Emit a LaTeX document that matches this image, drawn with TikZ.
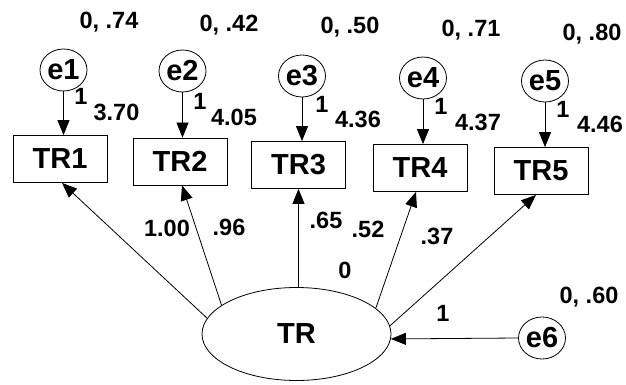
\documentclass[tikz,border=0pt]{standalone}
\usepackage{fontspec}
\setmainfont{Liberation Sans}
\usetikzlibrary{arrows.meta,shapes.geometric}
\begin{document}
\begin{tikzpicture}[x=1pt,y=-1pt,
  every path/.style={line width=0.8pt},
  nodefont/.style={font=\fontsize{29}{30}\selectfont\bfseries},
  err/.style={draw,ellipse,minimum width=47pt,minimum height=42pt,inner sep=0pt,nodefont},
  obs/.style={draw,rectangle,minimum width=94pt,minimum height=47pt,inner sep=0pt,nodefont},
  lat/.style={draw,ellipse,minimum width=189pt,minimum height=93pt,inner sep=0pt,nodefont},
  num/.style={inner sep=0pt,font=\fontsize{23.5}{25}\selectfont\bfseries},
  arr/.style={-{Triangle[length=15pt,width=12pt]},line width=0.8pt}]
\useasboundingbox (0,0) rectangle (626,385);
% error terms
\node[err] (e1) at (63.5,70) {e1};
\node[err] (e2) at (182.5,71) {e2};
\node[err] (e3) at (302,76) {e3};
\node[err] (e4) at (423,78) {e4};
\node[err] (e5) at (545,81) {e5};
\node[err] (e6) at (542,338) {e6};
% observed
\node[obs] (TR1) at (60,159) {TR1};
\node[obs] (TR2) at (180,161.5) {TR2};
\node[obs] (TR3) at (298.5,165) {TR3};
\node[obs] (TR4) at (420,168) {TR4};
\node[obs] (TR5) at (541,171) {TR5};
% latent
\node[lat] (TR) at (296.5,334) {TR};
% error arrows
\draw[arr] (e1.south) -- (e1.south |- TR1.north);
\draw[arr] (e2.south) -- (e2.south |- TR2.north);
\draw[arr] (e3.south) -- (e3.south |- TR3.north);
\draw[arr] (e4.south) -- (e4.south |- TR4.north);
\draw[arr] (e5.south) -- (e5.south |- TR5.north);
\draw[arr] (e6.west) -- (TR.-3);
% loadings
\draw[arr] (TR.170) -- ([xshift=2pt]TR1.south);
\draw[arr] (TR.159) -- ([xshift=2pt]TR2.south);
\draw[arr] (TR3.south |- TR.north) -- (TR3.south);
\draw[arr] (TR.18) -- ([xshift=-4pt]TR4.south);
\draw[arr] (TR.5) -- ([xshift=-5pt]TR5.south);
% labels
\node[num] (v1) at (109,22) {0, .74};
\node[num] (v2) at (229,25) {0, .42};
\node[num] (v3) at (350,27) {0, .50};
\node[num] (v4) at (471,30) {0, .71};
\node[num] (v5) at (592,34) {0, .80};
\node[num] (v6) at (589,297) {0, .60};
\node[num] (o1) at (81,96) {1};
\node[num] (o2) at (200,101) {1};
\node[num] (o3) at (322,104) {1};
\node[num] (o4) at (441,106) {1};
\node[num] (o5) at (563,109) {1};
\node[num] (o6) at (443,313) {1};
\node[num] (i1) at (116.5,112.5) {3.70};
\node[num] (i2) at (234,117) {4.05};
\node[num] (i3) at (358,119) {4.36};
\node[num] (i4) at (478,122) {4.37};
\node[num] (i5) at (600,124) {4.46};
\node[num] (l1) at (167,228) {1.00};
\node[num] (l2) at (229,227) {.96};
\node[num] (l3) at (326,220) {.65};
\node[num] (l4) at (368,229) {.52};
\node[num] (l5) at (437,236) {.37};
\node[num] (m0) at (345,270) {0};
\end{tikzpicture}
\end{document}
